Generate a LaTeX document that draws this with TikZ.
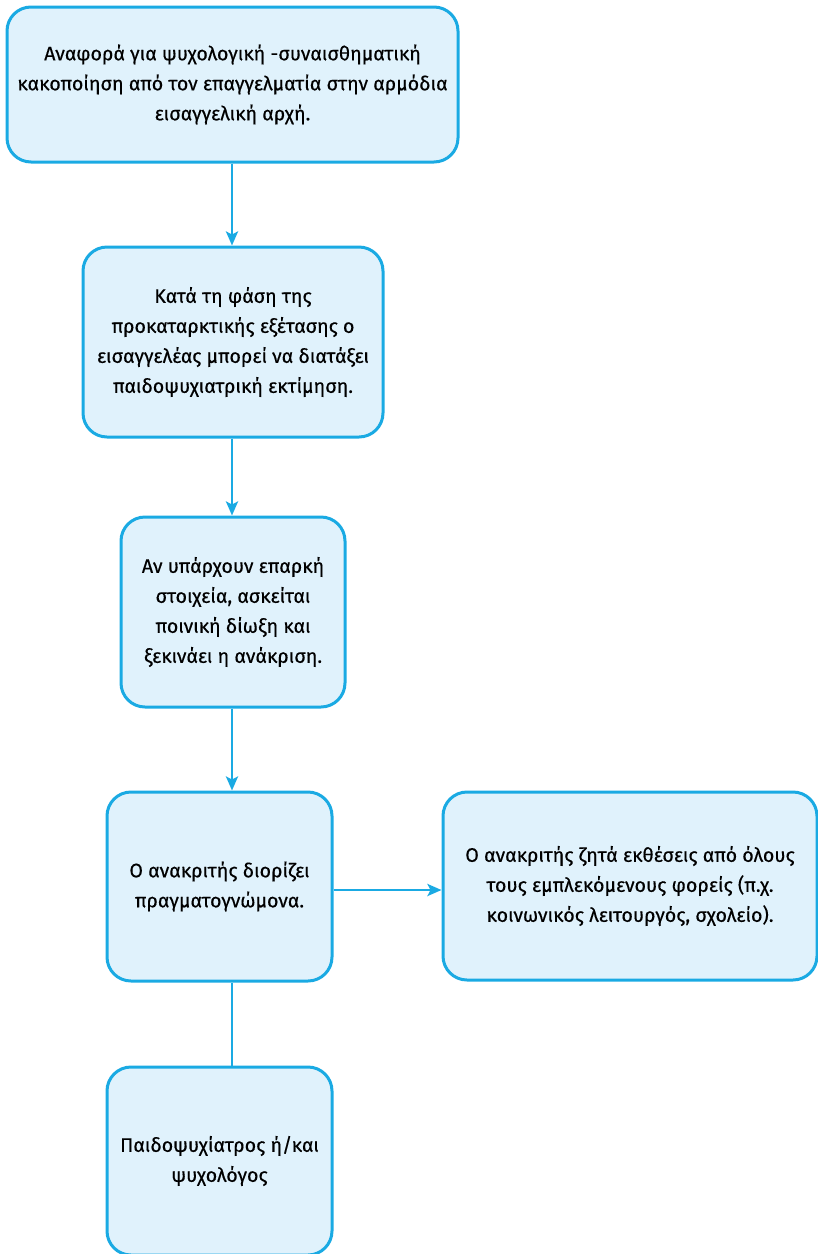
\documentclass[tikz,border=0pt]{standalone}
\usepackage{fontspec}
\setmainfont{Fira Sans}[FakeBold=0.4]
\usetikzlibrary{arrows.meta}
\definecolor{edgeblue}{HTML}{1AAAE3}
\definecolor{boxfill}{HTML}{E0F2FC}
\begin{document}
\begin{tikzpicture}[x=1pt,y=-1pt,
  box/.style={draw=edgeblue, fill=boxfill, line width=3pt, rounded corners=24pt,
    align=center, inner sep=0pt, font=\fontsize{19.6}{30}\selectfont},
  conn/.style={draw=edgeblue, line width=2.8pt},
  arr/.style={conn, -{Stealth[length=14pt,width=12pt,inset=3pt]}}]
\useasboundingbox (0,0) rectangle (818,1254);
\clip (0,0) rectangle (818,1254);
\node[box, minimum width=451pt, minimum height=155pt] (b1) at (232.5,84.5)
  {Αναφορά για ψυχολογική -συναισθηματική\\κακοποίηση από τον επαγγελματία στην αρμόδια\\εισαγγελική αρχή.};
\node[box, minimum width=300pt, minimum height=190pt] (b2) at (233,342)
  {Κατά τη φάση της\\προκαταρκτικής εξέτασης ο\\εισαγγελέας μπορεί να διατάξει\\παιδοψυχιατρική εκτίμηση.};
\node[box, minimum width=224pt, minimum height=190pt] (b3) at (233,612)
  {Αν υπάρχουν επαρκή\\στοιχεία, ασκείται\\ποινική δίωξη και\\ξεκινάει η ανάκριση.};
\node[box, minimum width=225pt, minimum height=189pt] (b4) at (219.5,886.5)
  {Ο ανακριτής διορίζει\\πραγματογνώμονα.};
\node[box, minimum width=374pt, minimum height=188pt] (b5) at (630,886)
  {Ο ανακριτής ζητά εκθέσεις από όλους\\τους εμπλεκόμενους φορείς (π.χ.\\κοινωνικός λειτουργός, σχολείο).};
\node[box, minimum width=225pt, minimum height=188pt] (b6) at (219.5,1161)
  {Παιδοψυχίατρος ή/και\\ψυχολόγος};
\draw[arr] (b1.south -| 232,0) -- (b2.north -| 232,0);
\draw[arr] (b2.south -| 232,0) -- (b3.north -| 232,0);
\draw[arr] (b3.south -| 232,0) -- (b4.north -| 232,0);
\draw[arr] (b4.east |- 0,890) -- (b5.west |- 0,890);
\draw[conn] (b4.south -| 232,0) -- (b6.north -| 232,0);
\end{tikzpicture}
\end{document}
